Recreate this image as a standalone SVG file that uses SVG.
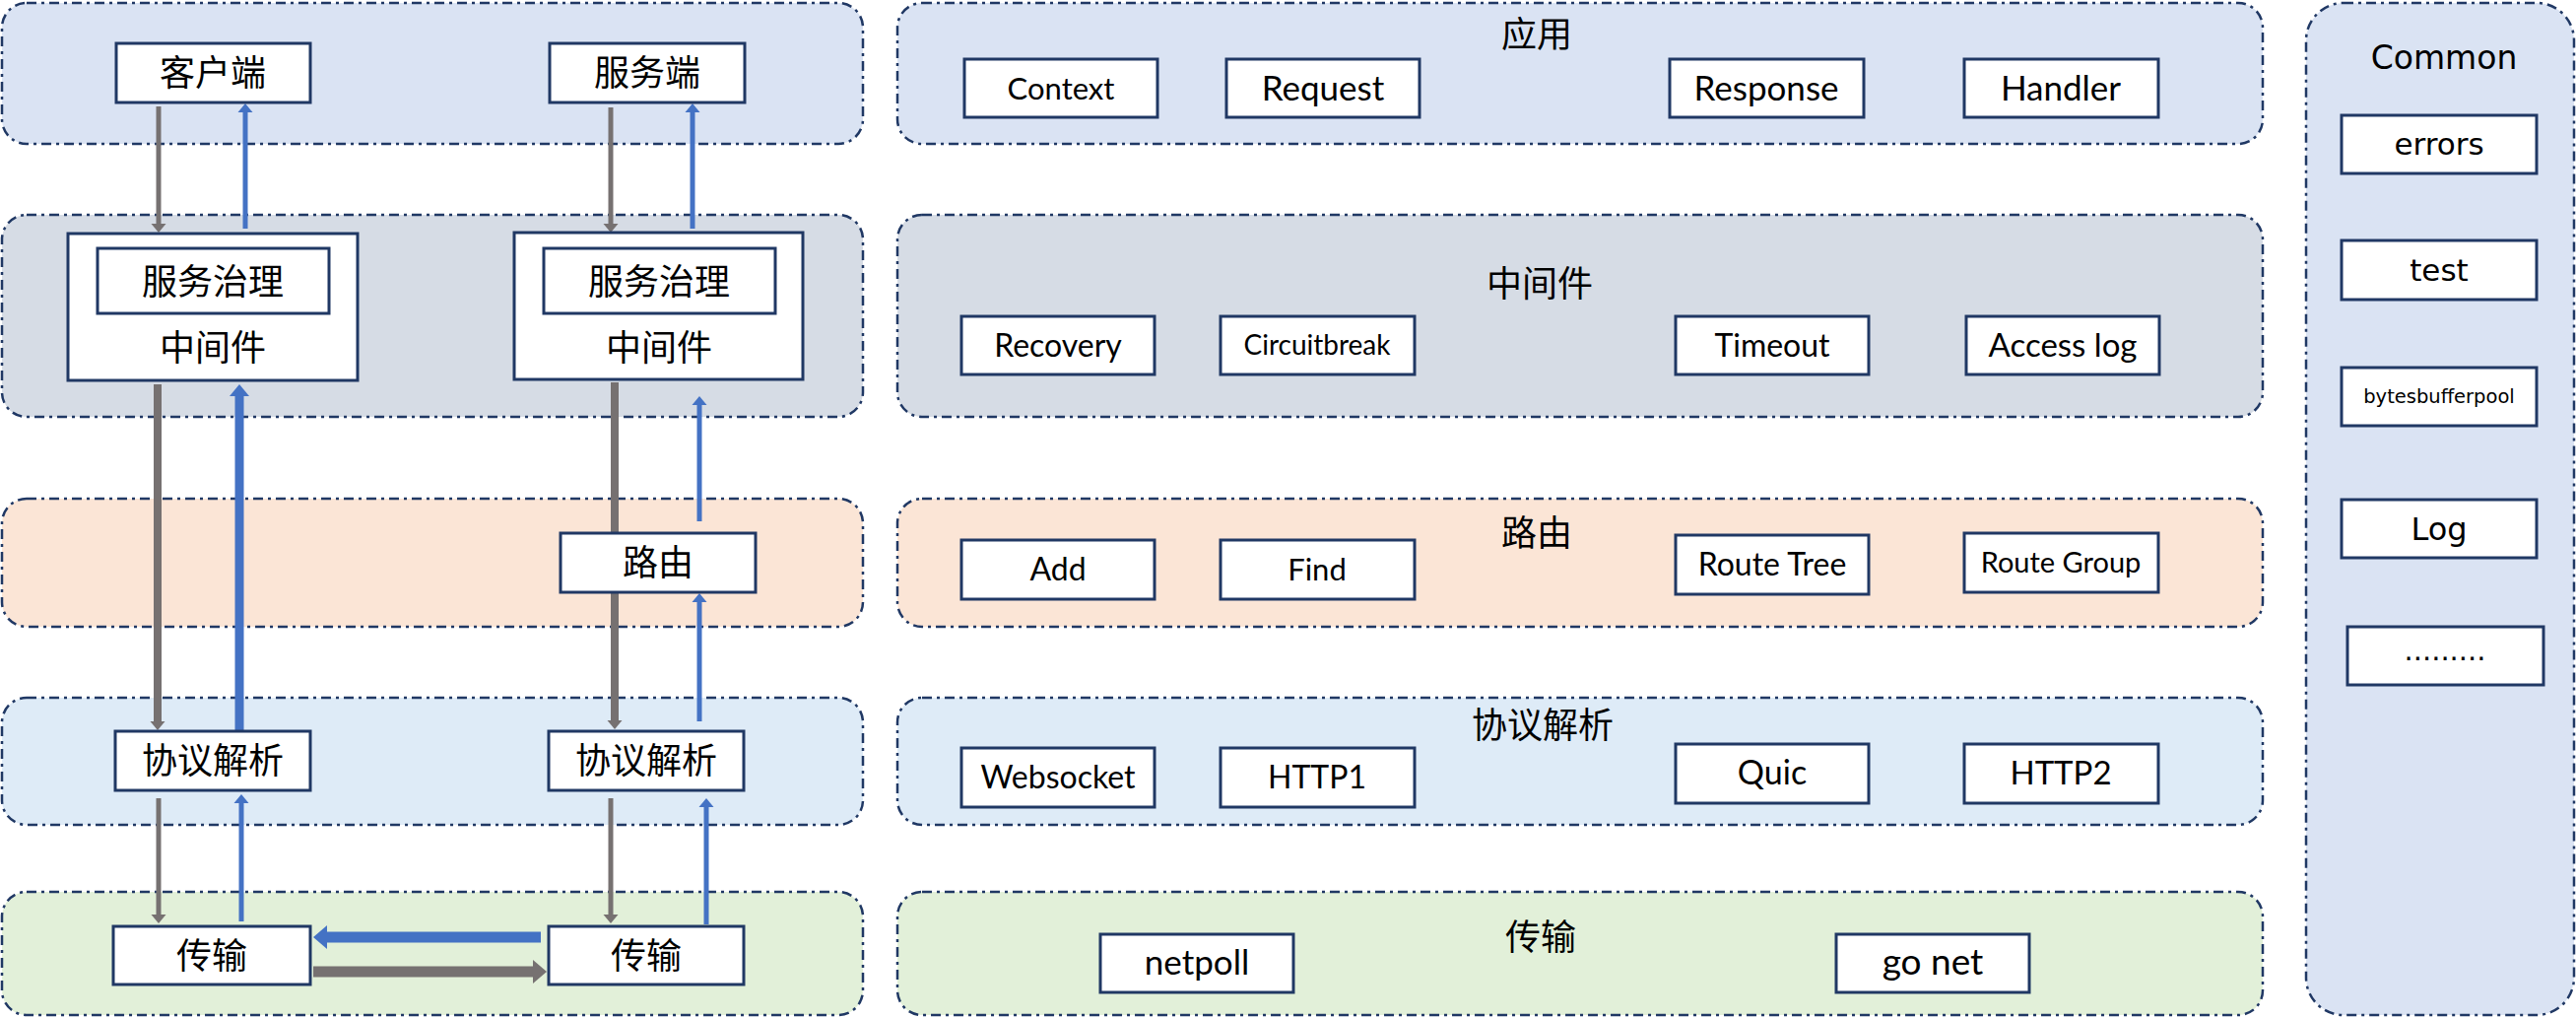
<svg xmlns="http://www.w3.org/2000/svg" width="2615" height="1033" viewBox="0 0 2615 1033">
<defs>
<style>
.panel{stroke:#203864;stroke-width:2.5;stroke-dasharray:10 5 3 5}
.box{fill:#fff;stroke:#203864;stroke-width:3}
.zh{font-family:"Noto Sans CJK SC","Noto Sans CJK JP",sans-serif;font-size:36px;fill:#000;text-anchor:middle}
.en{font-family:Lato,"Liberation Sans",sans-serif;fill:#000;text-anchor:middle}
.cm{font-family:"DejaVu Sans",sans-serif;fill:#000;text-anchor:middle}
.g{stroke:#767171;fill:none}
.b{stroke:#4472c4;fill:none}
</style>
<marker id="mg" markerUnits="userSpaceOnUse" viewBox="0 0 9 15" markerWidth="9" markerHeight="15" refX="0" refY="7.5" orient="auto" overflow="visible"><path d="M0,0 L9,7.5 L0,15 z" fill="#767171"/></marker>
<marker id="mb" markerUnits="userSpaceOnUse" viewBox="0 0 9 15" markerWidth="9" markerHeight="15" refX="0" refY="7.5" orient="auto" overflow="visible"><path d="M0,0 L9,7.5 L0,15 z" fill="#4472c4"/></marker>
<marker id="mbt" markerUnits="userSpaceOnUse" viewBox="0 0 12 20" markerWidth="12" markerHeight="20" refX="0" refY="10" orient="auto" overflow="visible"><path d="M0,0 L12,10 L0,20 z" fill="#4472c4"/></marker>
<marker id="mbh" markerUnits="userSpaceOnUse" viewBox="0 0 14 24" markerWidth="14" markerHeight="24" refX="0" refY="12" orient="auto" overflow="visible"><path d="M0,0 L14,12 L0,24 z" fill="#4472c4"/></marker>
<marker id="mgh" markerUnits="userSpaceOnUse" viewBox="0 0 14 24" markerWidth="14" markerHeight="24" refX="0" refY="12" orient="auto" overflow="visible"><path d="M0,0 L14,12 L0,24 z" fill="#767171"/></marker>
</defs>

<g id="panels">
<rect class="panel" x="2" y="3" width="874" height="143" rx="25" fill="#dae3f3"/>
<rect class="panel" x="2" y="218" width="874" height="205" rx="25" fill="#d6dce5"/>
<rect class="panel" x="2" y="506" width="874" height="130" rx="25" fill="#fbe5d6"/>
<rect class="panel" x="2" y="708" width="874" height="129" rx="25" fill="#deebf7"/>
<rect class="panel" x="2" y="905" width="874" height="125" rx="25" fill="#e2f0d9"/>
</g>

<g id="layer-app">
<rect class="panel" x="911" y="3" width="1386" height="143" rx="25" fill="#dae3f3"/>
<text class="zh" x="1560" y="48">应用</text>
</g>
<g id="layer-middleware">
<rect class="panel" x="911" y="218" width="1386" height="205" rx="25" fill="#d6dce5"/>
<text class="zh" x="1563" y="301">中间件</text>
</g>
<g id="layer-route">
<rect class="panel" x="911" y="506" width="1386" height="130" rx="25" fill="#fbe5d6"/>
<text class="zh" x="1560" y="554">路由</text>
</g>
<g id="layer-protocol">
<rect class="panel" x="911" y="708" width="1386" height="129" rx="25" fill="#deebf7"/>
<text class="zh" x="1566" y="749">协议解析</text>
</g>
<g id="layer-transport">
<rect class="panel" x="911" y="905" width="1386" height="125" rx="25" fill="#e2f0d9"/>
<text class="zh" x="1564" y="964">传输</text>
</g>
<g id="layer-common">
<rect class="panel" x="2341" y="3" width="272" height="1027" rx="38" fill="#dae3f3"/>
<text class="cm" x="2481" y="70" font-size="33">Common</text>
</g>

<g id="connectors">
<line class="g" x1="161" y1="108" x2="161" y2="227" stroke-width="5" marker-end="url(#mg)"/>
<line class="b" x1="249" y1="232" x2="249" y2="114" stroke-width="5" marker-end="url(#mb)"/>
<line class="g" x1="620" y1="109" x2="620" y2="227" stroke-width="5" marker-end="url(#mg)"/>
<line class="b" x1="703" y1="232" x2="703" y2="114" stroke-width="5" marker-end="url(#mb)"/>
<line class="g" x1="160" y1="390" x2="160" y2="732" stroke-width="8" marker-end="url(#mg)"/>
<line class="b" x1="243" y1="742" x2="243" y2="402" stroke-width="9" marker-end="url(#mbt)"/>
<line class="g" x1="624" y1="388" x2="624" y2="731" stroke-width="8" marker-end="url(#mg)"/>
<line class="b" x1="710" y1="529" x2="710" y2="411" stroke-width="5" marker-end="url(#mb)"/>
<line class="b" x1="710" y1="732" x2="710" y2="611" stroke-width="5" marker-end="url(#mb)"/>
<line class="g" x1="161" y1="810" x2="161" y2="928" stroke-width="5" marker-end="url(#mg)"/>
<line class="b" x1="245" y1="935" x2="245" y2="815" stroke-width="5" marker-end="url(#mb)"/>
<line class="g" x1="620" y1="810" x2="620" y2="928" stroke-width="5" marker-end="url(#mg)"/>
<line class="b" x1="717" y1="938" x2="717" y2="819" stroke-width="5" marker-end="url(#mb)"/>
<line class="b" x1="549" y1="951" x2="332" y2="951" stroke-width="11" marker-end="url(#mbh)"/>
<line class="g" x1="318" y1="986" x2="541" y2="986" stroke-width="11" marker-end="url(#mgh)"/>
</g>

<g id="client"><rect class="box" x="118" y="44" width="197" height="60"/><text class="zh" x="216" y="87">客户端</text></g>
<g id="server"><rect class="box" x="558" y="44" width="198" height="60"/><text class="zh" x="657" y="87">服务端</text></g>
<g id="client-middleware"><rect class="box" x="69" y="237" width="294" height="149"/><text class="zh" x="216" y="366">中间件</text></g>
<g id="client-governance"><rect class="box" x="99" y="252" width="235" height="66"/><text class="zh" x="216" y="299">服务治理</text></g>
<g id="server-middleware"><rect class="box" x="522" y="236" width="293" height="149"/><text class="zh" x="669" y="366">中间件</text></g>
<g id="server-governance"><rect class="box" x="552" y="252" width="235" height="66"/><text class="zh" x="669" y="299">服务治理</text></g>
<g id="server-route"><rect class="box" x="569" y="541" width="198" height="60"/><text class="zh" x="668" y="584">路由</text></g>
<g id="client-protocol"><rect class="box" x="117" y="742" width="198" height="60"/><text class="zh" x="216" y="785">协议解析</text></g>
<g id="server-protocol"><rect class="box" x="557" y="742" width="198" height="60"/><text class="zh" x="656" y="785">协议解析</text></g>
<g id="client-transport"><rect class="box" x="115" y="940" width="200" height="59"/><text class="zh" x="215" y="983">传输</text></g>
<g id="server-transport"><rect class="box" x="557" y="940" width="198" height="59"/><text class="zh" x="656" y="983">传输</text></g>

<g id="context"><rect class="box" x="979" y="60" width="196" height="59"/><text class="en" x="1077" y="101" font-size="31">Context</text></g>
<g id="request"><rect class="box" x="1245" y="60" width="196" height="59"/><text class="en" x="1343" y="102" font-size="35">Request</text></g>
<g id="response"><rect class="box" x="1695" y="60" width="197" height="59"/><text class="en" x="1793" y="102" font-size="35">Response</text></g>
<g id="handler"><rect class="box" x="1994" y="60" width="197" height="59"/><text class="en" x="2092" y="102" font-size="35">Handler</text></g>

<g id="recovery"><rect class="box" x="976" y="321" width="196" height="59"/><text class="en" x="1074" y="362" font-size="32">Recovery</text></g>
<g id="circuitbreak"><rect class="box" x="1239" y="321" width="197" height="59"/><text class="en" x="1337" y="360" font-size="28">Circuitbreak</text></g>
<g id="timeout"><rect class="box" x="1701" y="321" width="196" height="59"/><text class="en" x="1799" y="362" font-size="32">Timeout</text></g>
<g id="accesslog"><rect class="box" x="1996" y="321" width="196" height="59"/><text class="en" x="2094" y="362" font-size="33">Access log</text></g>

<g id="add"><rect class="box" x="976" y="548" width="196" height="60"/><text class="en" x="1074" y="589" font-size="32">Add</text></g>
<g id="find"><rect class="box" x="1239" y="548" width="197" height="60"/><text class="en" x="1337" y="589" font-size="31">Find</text></g>
<g id="routetree"><rect class="box" x="1701" y="543" width="196" height="60"/><text class="en" x="1799" y="584" font-size="32">Route Tree</text></g>
<g id="routegroup"><rect class="box" x="1994" y="541" width="197" height="60"/><text class="en" x="2092" y="581" font-size="29">Route Group</text></g>

<g id="websocket"><rect class="box" x="976" y="759" width="196" height="60"/><text class="en" x="1074" y="800" font-size="32">Websocket</text></g>
<g id="http1"><rect class="box" x="1239" y="759" width="197" height="60"/><text class="en" x="1337" y="800" font-size="32">HTTP1</text></g>
<g id="quic"><rect class="box" x="1701" y="755" width="196" height="60"/><text class="en" x="1799" y="796" font-size="34">Quic</text></g>
<g id="http2"><rect class="box" x="1994" y="755" width="197" height="60"/><text class="en" x="2092" y="796" font-size="33">HTTP2</text></g>

<g id="netpoll"><rect class="box" x="1117" y="948" width="196" height="59"/><text class="en" x="1215" y="989" font-size="35">netpoll</text></g>
<g id="gonet"><rect class="box" x="1864" y="948" width="196" height="59"/><text class="en" x="1962" y="989" font-size="37">go net</text></g>

<g id="errors"><rect class="box" x="2377" y="117" width="198" height="59"/><text class="cm" x="2476" y="157" font-size="31">errors</text></g>
<g id="test"><rect class="box" x="2377" y="244" width="198" height="60"/><text class="cm" x="2476" y="285" font-size="31">test</text></g>
<g id="bytesbufferpool"><rect class="box" x="2377" y="373" width="198" height="59"/><text class="cm" x="2476" y="409" font-size="19.5">bytesbufferpool</text></g>
<g id="log"><rect class="box" x="2377" y="507" width="198" height="59"/><text class="cm" x="2476" y="548" font-size="32">Log</text></g>
<g id="more"><rect class="box" x="2383" y="636" width="199" height="59"/><text class="cm" x="2482" y="670" font-size="29">.........</text></g>
</svg>
